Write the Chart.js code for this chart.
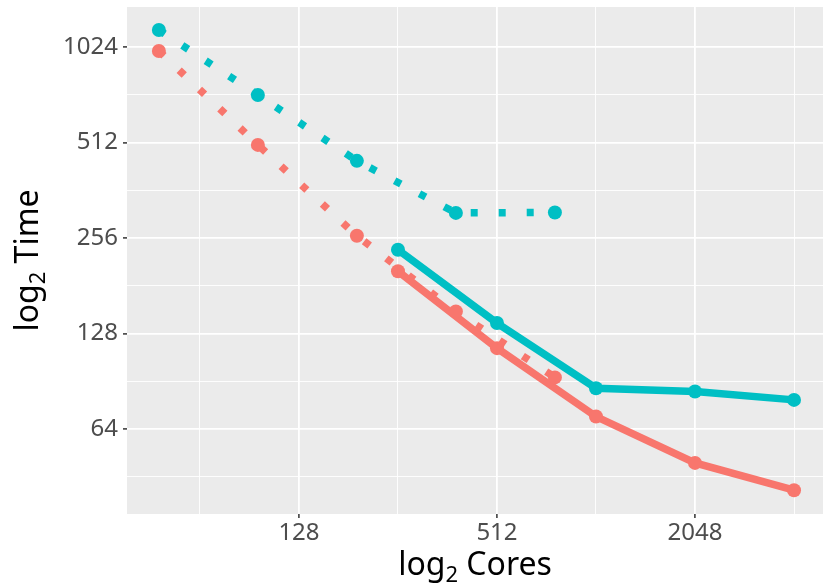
<!DOCTYPE html>
<html>
<head>
<meta charset="utf-8">
<script src="https://cdn.jsdelivr.net/npm/chart.js@4/dist/chart.umd.min.js"></script>
<style>
  html, body { margin: 0; padding: 0; background: #fff; }
  #wrap { width: 823px; height: 584px; }
</style>
</head>
<body>
<div id="wrap"><canvas id="scaling"></canvas></div>
<script>
// cores used by each run
const coresSmall = [48, 96, 192, 384, 768];
const coresLarge = [256, 512, 1024, 2048, 4096];

// time in seconds
const tealDotted = [1158, 723, 448, 307, 308];
const redDotted = [995, 503, 260, 150, 93];
const tealSolid = [235, 138, 86, 84, 79];
const redSolid = [201, 115, 70, 50, 41];

const xTicks = [64, 128, 256, 512, 1024, 2048, 4096];
const xLabels = [128, 512, 2048];
const yTicks = [45.25, 64, 90.5, 128, 181, 256, 362, 512, 724, 1024];
const yLabels = [64, 128, 256, 512, 1024];

const xTitle = ["log", "2", " Cores"];
const yTitle = ["log", "2", " Time"];

const RED = "#F8766D";
const TEAL = "#00BFC4";
const FONT = "Noto Sans";

const pts = (xs, ys) => xs.map((x, i) => ({ x: x, y: ys[i] }));

function series(label, xs, ys, color, dotted) {
  return {
    label: label,
    data: pts(xs, ys),
    borderColor: color,
    backgroundColor: color,
    borderWidth: 7.5,
    borderDash: dotted ? [7, 21] : [],
    borderCapStyle: "butt",
    pointRadius: 7,
    pointHoverRadius: 7,
    pointBorderWidth: 0,
    tension: 0,
  };
}

// no extra room for half labels at the ends of the axes
function noPad(s) {
  s.paddingTop = 0;
  s.paddingBottom = 0;
  s.paddingLeft = 0;
  s.paddingRight = 0;
}

const panelBg = {
  id: "panelBg",
  beforeDraw(chart) {
    const a = chart.chartArea;
    const c = chart.ctx;
    c.save();
    c.fillStyle = "#EBEBEB";
    c.fillRect(a.left, a.top, a.right - a.left, a.bottom - a.top);
    c.restore();
  },
};

// axis titles with a real subscript 2
function drawTitle(c, parts, cx, baseline) {
  const big = "32px '" + FONT + "'";
  const small = "22px '" + FONT + "'";
  c.font = big;
  const w0 = c.measureText(parts[0]).width;
  const w2 = c.measureText(parts[2]).width;
  c.font = small;
  const w1 = c.measureText(parts[1]).width;
  let x = cx - (w0 + w1 + w2) / 2;
  c.fillStyle = "#000000";
  c.textBaseline = "alphabetic";
  c.textAlign = "left";
  c.font = big;
  c.fillText(parts[0], x, baseline);
  x += w0;
  c.font = small;
  c.fillText(parts[1], x, baseline + 7);
  x += w1;
  c.font = big;
  c.fillText(parts[2], x, baseline);
}

const axisTitles = {
  id: "axisTitles",
  afterDraw(chart) {
    const a = chart.chartArea;
    const c = chart.ctx;
    c.save();
    drawTitle(c, xTitle, (a.left + a.right) / 2, 575);
    c.translate(38, (a.top + a.bottom) / 2);
    c.rotate(-Math.PI / 2);
    drawTitle(c, yTitle, 0, 0);
    c.restore();
  },
};

new Chart(document.getElementById("scaling"), {
  type: "line",
  data: {
    datasets: [
      series("red dotted", coresSmall, redDotted, RED, true),
      series("teal dotted", coresSmall, tealDotted, TEAL, true),
      series("red solid", coresLarge, redSolid, RED, false),
      series("teal solid", coresLarge, tealSolid, TEAL, false),
    ],
  },
  options: {
    responsive: true,
    maintainAspectRatio: false,
    animation: false,
    layout: { autoPadding: false, padding: { top: 7, right: 0, left: 0, bottom: 0 } },
    plugins: {
      legend: { display: false },
      tooltip: { enabled: false },
    },
    scales: {
      x: {
        type: "logarithmic",
        min: 38.4,
        max: 5018,
        afterBuildTicks: (s) => { s.ticks = xTicks.map((v) => ({ value: v })); },
        afterFit: (s) => { s.height = 70; noPad(s); },
        border: { display: false },
        grid: {
          color: "#FFFFFF",
          lineWidth: (c) => (xLabels.includes(c.tick.value) ? 1.8 : 0.9),
          tickColor: (c) => (xLabels.includes(c.tick.value) ? "#333333" : "rgba(0,0,0,0)"),
          tickLength: 4,
          tickWidth: 1.5,
        },
        ticks: {
          autoSkip: false,
          maxRotation: 0,
          padding: 1,
          color: "#4D4D4D",
          font: { family: FONT, size: 24 },
          callback: (v) => (xLabels.includes(v) ? String(v) : ""),
        },
      },
      y: {
        type: "logarithmic",
        min: 34.5,
        max: 1369,
        afterBuildTicks: (s) => { s.ticks = yTicks.map((v) => ({ value: v })); },
        afterFit: (s) => { s.width = 127; noPad(s); },
        border: { display: false },
        grid: {
          color: "#FFFFFF",
          lineWidth: (c) => (yLabels.includes(c.tick.value) ? 1.8 : 0.9),
          tickColor: (c) => (yLabels.includes(c.tick.value) ? "#333333" : "rgba(0,0,0,0)"),
          tickLength: 4,
          tickWidth: 1.5,
        },
        ticks: {
          autoSkip: false,
          padding: 5,
          color: "#4D4D4D",
          font: { family: FONT, size: 24 },
          callback: (v) => (yLabels.includes(v) ? String(v) : ""),
        },
      },
    },
  },
  plugins: [panelBg, axisTitles],
});
</script>
</body>
</html>
